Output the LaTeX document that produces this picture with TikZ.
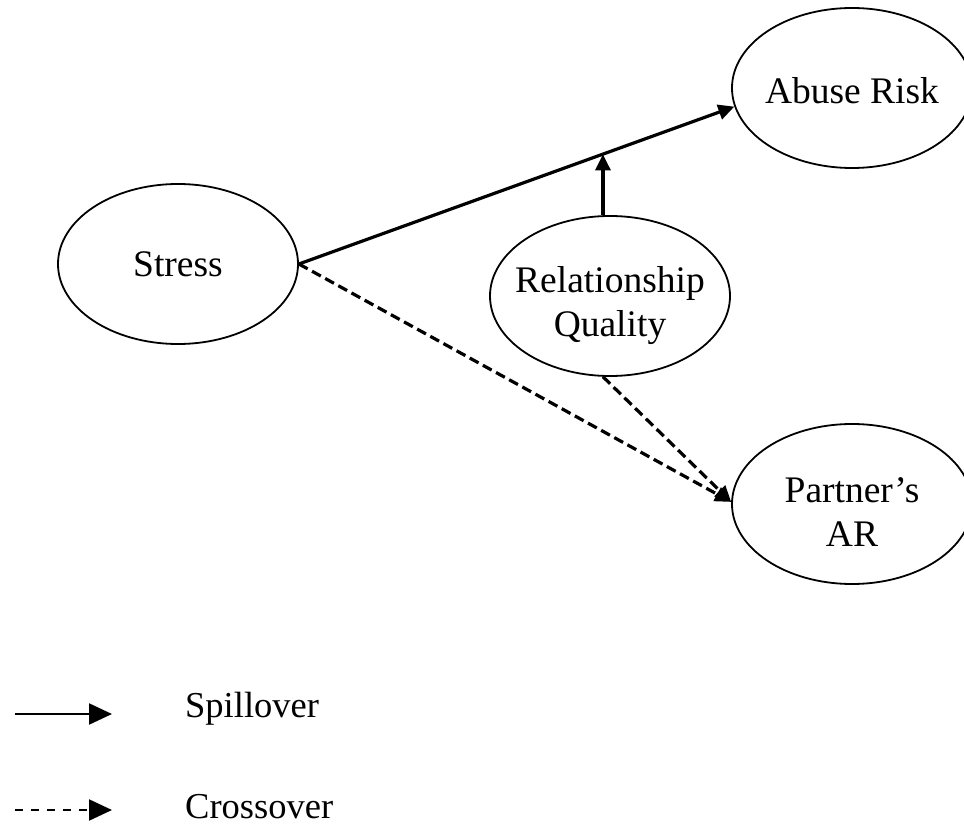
\documentclass[tikz,border=0pt]{standalone}
\usepackage{fontspec}
\setmainfont{Liberation Serif}
\usetikzlibrary{arrows.meta,calc,shapes.geometric}
\begin{document}
\begin{tikzpicture}[x=1pt,y=-1pt,
  var/.style={ellipse,draw,line width=1.8pt,minimum width=240pt,minimum height=160pt,inner sep=0pt},
  vtext/.style={inner sep=0pt,align=center,font=\fontsize{37.5}{44}\selectfont},
  spill/.style={line width=3.2pt,-{Triangle[length=16pt,width=15pt]}},
  cross/.style={line width=3.2pt,dash pattern=on 10pt off 5pt,-{Triangle[length=16pt,width=15pt]}},
  legspill/.style={line width=2.2pt,-{Triangle[length=23pt,width=21pt]}},
  legcross/.style={line width=2.2pt,dash pattern=on 8pt off 8pt,-{Triangle[length=23pt,width=21pt]}},
  legtext/.style={anchor=base west,inner sep=0pt,font=\fontsize{36.5}{44}\selectfont}]
\useasboundingbox[fill=white] (0,0) rectangle (964,826);

% variables
\node[var] (st) at (178,264) {};
\node[vtext] (stt) at (st.center) {Stress};
\node[var] (ab) at (852,88) {};
\node[vtext] (abt) at ($(ab.center)+(0,3)$) {Abuse Risk};
\node[var] (rq) at (610,296) {};
\node[vtext] (rqt) at ($(rq.center)+(0,10)$) {Relationship\\Quality};
\node[var] (pa) at (852,504) {};
\node[vtext] (pat) at ($(pa.center)+(0,8)$) {Partner’s\\AR};

% paths
\draw[spill] (st.east) -- (ab.189);
\path (st.east) -- (ab.189) coordinate[pos=0.697] (m);
\draw[spill] (rq.95) -- (rq.95 |- m);
\draw[cross] (st.east) -- (pa.179);
\draw[cross] (rq.265) -- (pa.179);

% legend
\coordinate (l1a) at (15,714);
\coordinate (l1b) at (112,714);
\coordinate (l2a) at (15,810);
\coordinate (l2b) at (112,810);
\draw[legspill] (l1a) -- (l1b);
\draw[legcross] (l2a) -- (l2b);
\node[legtext] (lt1) at (185,717) {Spillover};
\node[legtext] (lt2) at (185,818) {Crossover};
\end{tikzpicture}
\end{document}
